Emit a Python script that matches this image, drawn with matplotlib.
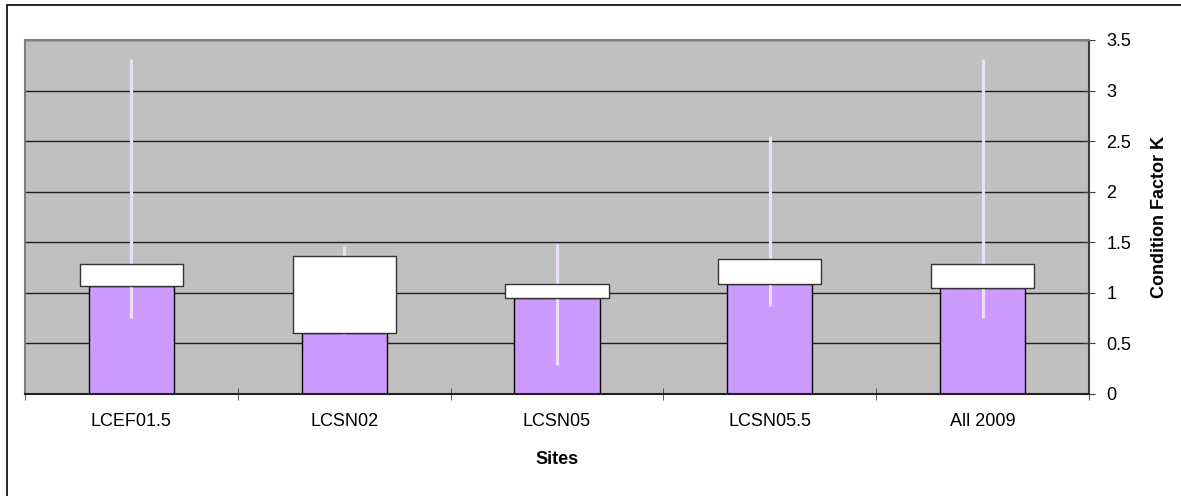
import numpy as np
import matplotlib.pyplot as plt
from matplotlib.patches import Rectangle

plt.rcParams['font.family'] = ['Liberation Sans', 'DejaVu Sans']

# data
sites = ['LCEF01.5', 'LCSN02', 'LCSN05', 'LCSN05.5', 'All 2009']
q1 = [1.07, 0.60, 0.95, 1.085, 1.05]
q3 = [1.29, 1.36, 1.085, 1.33, 1.29]
k_min = [0.755, 0.59, 0.29, 0.87, 0.755]
k_max = [3.31, 1.46, 1.48, 2.55, 3.31]

fig = plt.figure(figsize=(11.81, 4.96), dpi=100)
ax = fig.add_axes([25 / 1181, 1 - 394 / 496, (1089 - 25) / 1181, (394 - 40) / 496])
ax.set_facecolor('#C0C0C0')

x = np.arange(len(sites))
box_h = np.array(q3) - np.array(q1)

# lower part up to Q1 in purple
ax.bar(x, q1, width=0.40, color='#CC99FF', edgecolor='black', linewidth=1, zorder=2)
# whiskers
ax.vlines(x, k_min, k_max, color='#EADDF6', linewidth=2.3, zorder=3)
# white box Q1 -> Q3
ax.bar(x, box_h, bottom=q1, width=0.485, color='white', edgecolor='#333333', linewidth=1, zorder=4)

ax.set_xlim(-0.5, len(sites) - 0.5)
ax.set_ylim(0, 3.5)

ax.yaxis.tick_right()
ax.yaxis.set_label_position('right')
ax.set_yticks(np.arange(0, 3.51, 0.5))
ax.set_yticklabels(['0', '0.5', '1', '1.5', '2', '2.5', '3', '3.5'])
ax.yaxis.grid(True, color='#202020', linewidth=1)
ax.set_axisbelow(True)

ax.set_xticks(x)
ax.set_xticklabels(sites)
ax.set_xticks(np.arange(-0.5, len(sites), 1), minor=True)
ax.tick_params(axis='x', which='major', length=0, pad=14, labelsize=13)
ax.tick_params(axis='x', which='minor', direction='inout', length=9, color='#404040')
ax.tick_params(axis='y', direction='inout', length=9, pad=8, labelsize=13, color='#404040')

for side in ['top', 'left']:
    ax.spines[side].set_color('#808080')
    ax.spines[side].set_linewidth(1.5)
ax.spines['right'].set_color('#404040')
ax.spines['right'].set_linewidth(1.5)
ax.spines['bottom'].set_color('#202020')
ax.spines['bottom'].set_linewidth(1.5)

ax.set_xlabel('Sites', fontsize=13, fontweight='bold', labelpad=15)
ax.set_ylabel('Condition Factor K', fontsize=13, fontweight='bold', labelpad=14)

# outer chart border
fig.patches.append(Rectangle((7 / 1181, -0.05), 1.1, 1 - 5 / 496 + 0.05,
                             transform=fig.transFigure, fill=False,
                             edgecolor='black', linewidth=1.2))

fig.savefig('out.png', dpi=100)
